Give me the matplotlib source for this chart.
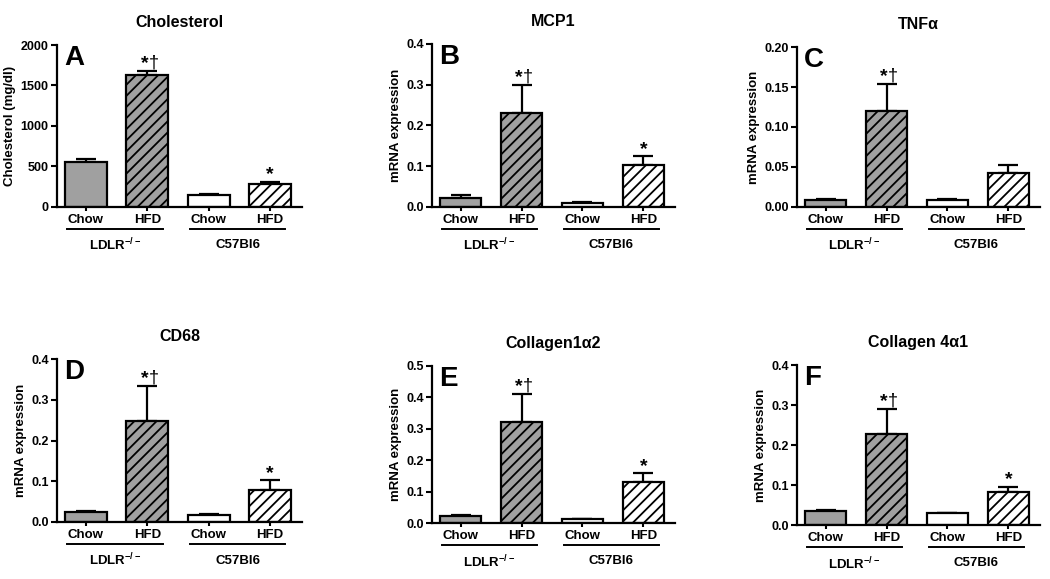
import matplotlib
matplotlib.use("Agg")
import matplotlib.pyplot as plt
import matplotlib.transforms as mtransforms

plt.rcParams['font.family'] = ['Liberation Sans', 'DejaVu Sans']
plt.rcParams['font.weight'] = 'bold'
plt.rcParams['mathtext.fontset'] = 'custom'
plt.rcParams['mathtext.rm'] = 'Liberation Sans:bold'
plt.rcParams['mathtext.bf'] = 'Liberation Sans:bold'
plt.rcParams['mathtext.it'] = 'Liberation Sans:bold'
plt.rcParams['hatch.linewidth'] = 1.3

# ---- data ----
bar_labels = ["Chow", "HFD", "Chow", "HFD"]
group_labels = [r"LDLR$^{-/-}$", "C57Bl6"]
titles = ["Cholesterol", "MCP1", "TNF\u03b1", "CD68", "Collagen1\u03b12", "Collagen 4\u03b11"]
letters = ["A", "B", "C", "D", "E", "F"]
ylabels = ["Cholesterol (mg/dl)", "mRNA expression", "mRNA expression",
           "mRNA expression", "mRNA expression", "mRNA expression"]

cholesterol_mean = [555, 1634, 144, 288]
cholesterol_err = [37, 49, 12, 17]
mcp1_mean = [0.022, 0.231, 0.010, 0.104]
mcp1_err = [0.007, 0.068, 0.002, 0.020]
tnfa_mean = [0.009, 0.120, 0.0085, 0.042]
tnfa_err = [0.0014, 0.034, 0.0010, 0.010]
cd68_mean = [0.025, 0.248, 0.016, 0.078]
cd68_err = [0.002, 0.086, 0.003, 0.024]
col1_mean = [0.021, 0.321, 0.0117, 0.131]
col1_err = [0.003, 0.091, 0.0013, 0.027]
col4_mean = [0.035, 0.227, 0.029, 0.0825]
col4_err = [0.0015, 0.063, 0.001, 0.0135]

means = [cholesterol_mean, mcp1_mean, tnfa_mean, cd68_mean, col1_mean, col4_mean]
errs = [cholesterol_err, mcp1_err, tnfa_err, cd68_err, col1_err, col4_err]
# significance: star marks and dagger marks per bar
star_marks = [[0, 1, 0, 1], [0, 1, 0, 1], [0, 1, 0, 0],
              [0, 1, 0, 1], [0, 1, 0, 1], [0, 1, 0, 1]]
dagger_marks = [[0, 1, 0, 0], [0, 1, 0, 0], [0, 1, 0, 0],
                [0, 1, 0, 0], [0, 1, 0, 0], [0, 1, 0, 0]]
ymax = [2000, 0.4, 0.20, 0.4, 0.5, 0.4]
yticks = [[0, 500, 1000, 1500, 2000],
          [0.0, 0.1, 0.2, 0.3, 0.4],
          [0.00, 0.05, 0.10, 0.15, 0.20],
          [0.0, 0.1, 0.2, 0.3, 0.4],
          [0.0, 0.1, 0.2, 0.3, 0.4, 0.5],
          [0.0, 0.1, 0.2, 0.3, 0.4]]
ytickfmt = ["{:.0f}", "{:.1f}", "{:.2f}", "{:.1f}", "{:.1f}", "{:.1f}"]

face_colors = ["#a0a0a0", "#a0a0a0", "white", "white"]
hatches = [None, "///", None, "///"]

# axes rectangles (left, top, right, bottom) in pixels
W, H = 1050, 579
rects_px = [(57, 45, 302, 207), (432, 44, 675, 207), (797, 47, 1040, 207),
            (57, 359, 302, 522), (432, 366, 675, 523), (797, 365, 1040, 525)]

fig = plt.figure(figsize=(10.5, 5.79), dpi=100)

for i in range(6):
    l, t, r, b = rects_px[i]
    ax = fig.add_axes([l / W, 1 - b / H, (r - l) / W, (b - t) / H])
    x = list(range(4))
    ax.bar(x, means[i], width=0.68, color=face_colors, edgecolor="black",
           linewidth=1.6, hatch=hatches, zorder=2)
    ax.errorbar(x, means[i], yerr=[[0] * 4, errs[i]], fmt="none", ecolor="black",
                elinewidth=1.6, capsize=7, capthick=1.6, zorder=1)
    ax.set_xlim(-0.47, 3.52)
    ax.set_ylim(0, ymax[i])
    ax.set_yticks(yticks[i])
    ax.set_yticklabels([ytickfmt[i].format(v) for v in yticks[i]], fontsize=9, fontweight="bold")
    ax.set_xticks(x)
    ax.set_xticklabels(bar_labels, fontsize=9.5, fontweight="bold")
    ax.tick_params(axis="both", width=1.5, length=4, pad=2)
    ax.tick_params(axis="x", length=3)
    for s in ["top", "right"]:
        ax.spines[s].set_visible(False)
    for s in ["left", "bottom"]:
        ax.spines[s].set_linewidth(1.6)
    ax.set_ylabel(ylabels[i], fontsize=9.5, fontweight="bold", labelpad=3)
    ax.set_title(titles[i], fontsize=11.5, fontweight="bold", pad=13)
    ax.text(0.03, 1.0, letters[i], transform=ax.transAxes, fontsize=20,
            fontweight="bold", va="top", ha="left")
    # significance marks
    for j in range(4):
        top = means[i][j] + errs[i][j]
        if star_marks[i][j] and dagger_marks[i][j]:
            ax.annotate("*", xy=(j, top), xytext=(1, 2), textcoords="offset points",
                        ha="right", va="baseline", fontsize=14, fontweight="bold")
            ax.annotate("\u2020", xy=(j, top), xytext=(1, 2.5), textcoords="offset points",
                        ha="left", va="baseline", fontsize=13, fontweight="normal")
        elif star_marks[i][j]:
            ax.annotate("*", xy=(j, top), xytext=(0, 2), textcoords="offset points",
                        ha="center", va="baseline", fontsize=14, fontweight="bold")
    # group lines and labels
    blend = mtransforms.blended_transform_factory(ax.transData, ax.transAxes)
    line_tr = blend + mtransforms.ScaledTranslation(0, -0.22, fig.dpi_scale_trans)
    lab_tr = blend + mtransforms.ScaledTranslation(0, -0.385, fig.dpi_scale_trans)
    for (x0, x1), lab in zip([(-0.3, 1.25), (1.7, 3.25)], group_labels):
        ax.plot([x0, x1], [0, 0], color="black", linewidth=1.4, transform=line_tr,
                clip_on=False)
        ax.text((x0 + x1) / 2, 0, lab, transform=lab_tr, ha="center", va="center",
                fontsize=9.5, fontweight="bold")

fig.savefig("out.png", dpi=100)
